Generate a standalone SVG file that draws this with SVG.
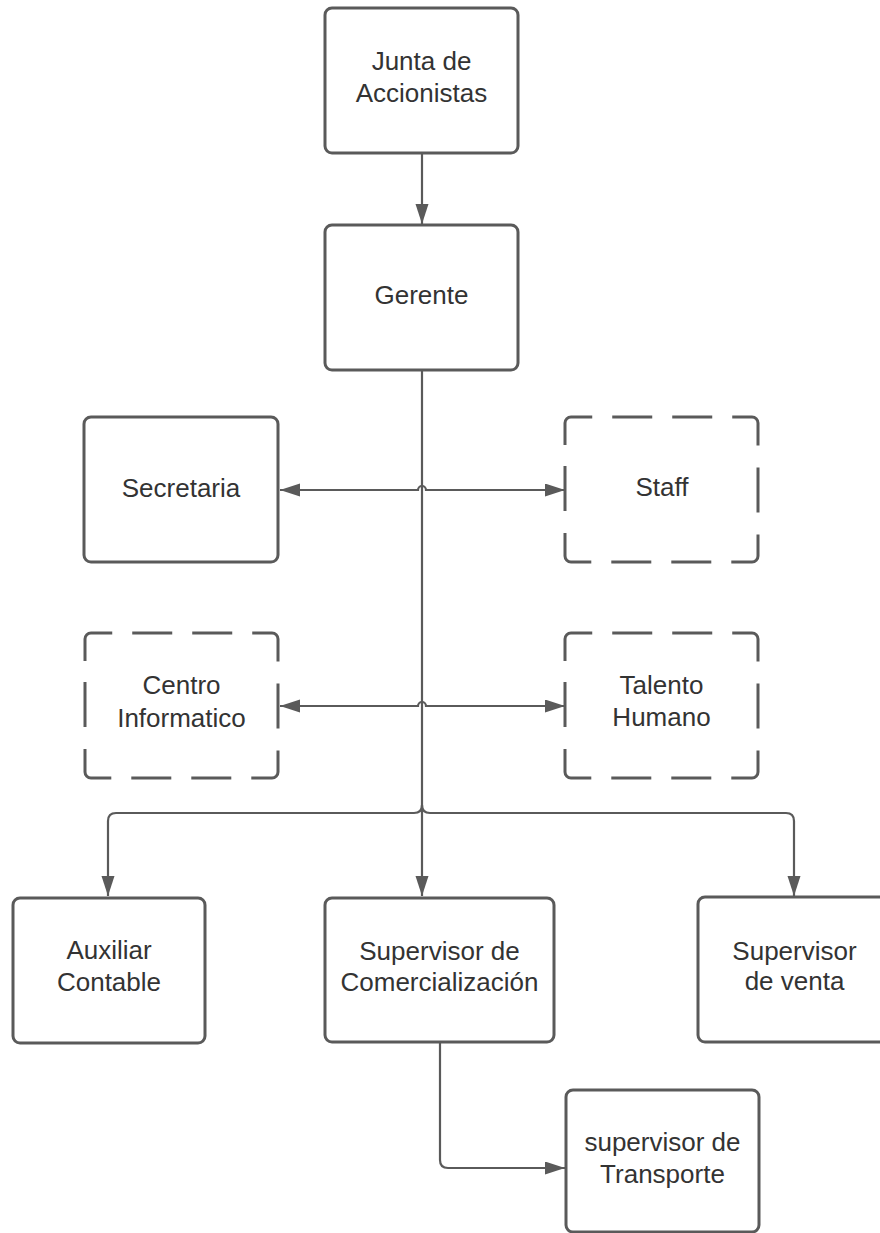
<svg xmlns="http://www.w3.org/2000/svg" width="880" height="1233" viewBox="0 0 880 1233">
  <style>
    .box { fill: #ffffff; stroke: #5a5a5a; stroke-width: 3; }
    .dbox { fill: #ffffff; stroke: #5a5a5a; stroke-width: 3; stroke-dasharray: 52.42 20 40 20 40 20 51.42 22 45 22 51.42 20 40 20 40 20 52.42 22 45 22; }
    .lbl { font-family: "Liberation Sans", Arial, sans-serif; font-size: 26px; fill: #333333; text-anchor: middle; }
    .conn { fill: none; stroke: #5a5a5a; stroke-width: 2.2; }
  </style>
  <defs>
    <marker id="arrow" markerUnits="userSpaceOnUse" markerWidth="22" markerHeight="14" refX="20" refY="6.5" orient="auto-start-reverse" viewBox="0 0 22 14">
      <path d="M0,0 L20,6.5 L0,13 Z" fill="#5a5a5a"/>
    </marker>
    <path id="dashbox" class="dbox" d="M0,28 V6 A6,6 0 0 1 6,0 H187 A6,6 0 0 1 193,6 V139 A6,6 0 0 1 187,145 H6 A6,6 0 0 1 0,139 Z"/>
  </defs>
  <rect width="880" height="1233" fill="#ffffff"/>

  <g id="connectors">
    <path class="conn" d="M422,153 V224" marker-end="url(#arrow)"/>
    <path class="conn" d="M422,370 V896" marker-end="url(#arrow)"/>
    <path class="conn" d="M565,490 H426 A4,4 0 0 0 418,490 H280" marker-start="url(#arrow)" marker-end="url(#arrow)"/>
    <path class="conn" d="M565,706 H426 A4,4 0 0 0 418,706 H280" marker-start="url(#arrow)" marker-end="url(#arrow)"/>
    <path class="conn" d="M422,805 Q422,813 414,813 H116 Q108,813 108,821 V896" marker-end="url(#arrow)"/>
    <path class="conn" d="M422,805 Q422,813 430,813 H786 Q794,813 794,821 V896" marker-end="url(#arrow)"/>
    <path class="conn" d="M440,1042 V1160 Q440,1168 448,1168 H565" marker-end="url(#arrow)"/>
  </g>

  <g id="junta">
    <rect class="box" x="325" y="8" width="193" height="145" rx="7"/>
    <text class="lbl" x="421.5" y="70">Junta de</text>
    <text class="lbl" x="421.5" y="102">Accionistas</text>
  </g>
  <g id="gerente">
    <rect class="box" x="325" y="225" width="193" height="145" rx="7"/>
    <text class="lbl" x="421.5" y="304">Gerente</text>
  </g>
  <g id="secretaria">
    <rect class="box" x="84" y="417" width="194" height="145" rx="7"/>
    <text class="lbl" x="181" y="497">Secretaria</text>
  </g>
  <g id="staff">
    <use href="#dashbox" x="565" y="417"/>
    <text class="lbl" x="662" y="496">Staff</text>
  </g>
  <g id="centro">
    <use href="#dashbox" x="85" y="633"/>
    <text class="lbl" x="181.5" y="694">Centro</text>
    <text class="lbl" x="181.5" y="727">Informatico</text>
  </g>
  <g id="talento">
    <use href="#dashbox" x="565" y="633"/>
    <text class="lbl" x="661.5" y="694">Talento</text>
    <text class="lbl" x="661.5" y="726">Humano</text>
  </g>
  <g id="auxiliar">
    <rect class="box" x="13" y="898" width="192" height="145" rx="7"/>
    <text class="lbl" x="109" y="959">Auxiliar</text>
    <text class="lbl" x="109" y="991">Contable</text>
  </g>
  <g id="comercializacion">
    <rect class="box" x="325" y="898" width="229" height="144" rx="7"/>
    <text class="lbl" x="439.5" y="960">Supervisor de</text>
    <text class="lbl" x="439.5" y="991">Comercialización</text>
  </g>
  <g id="venta">
    <rect class="box" x="698" y="897" width="194" height="145" rx="7"/>
    <text class="lbl" x="794.5" y="960">Supervisor</text>
    <text class="lbl" x="794.5" y="990">de venta</text>
  </g>
  <g id="transporte">
    <rect class="box" x="566" y="1090" width="193" height="142" rx="7"/>
    <text class="lbl" x="662.5" y="1151">supervisor de</text>
    <text class="lbl" x="662.5" y="1183">Transporte</text>
  </g>
</svg>
